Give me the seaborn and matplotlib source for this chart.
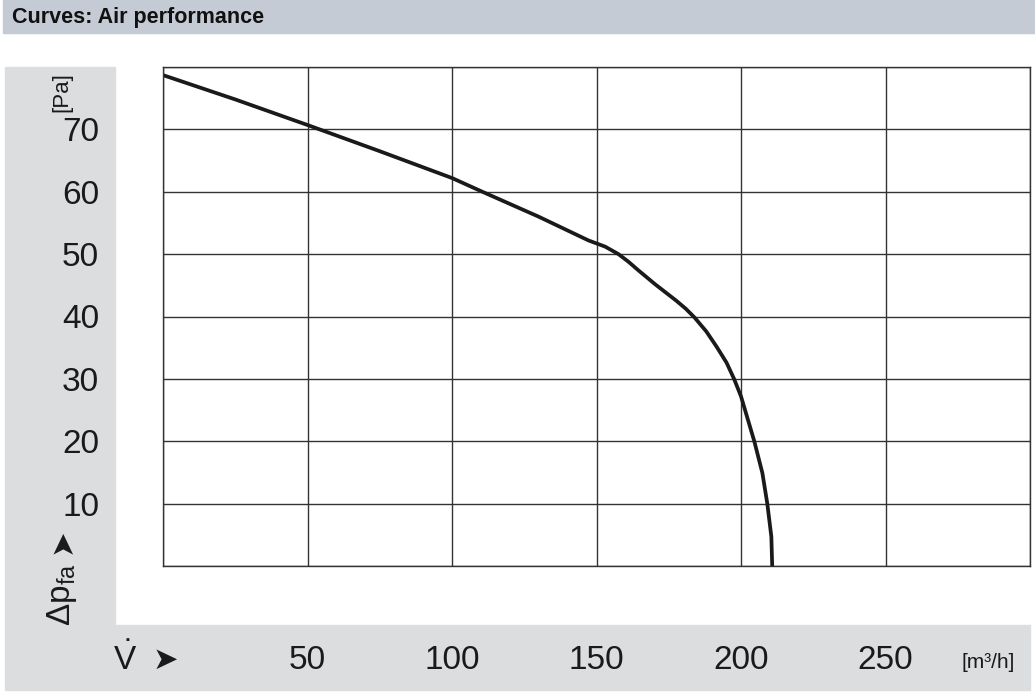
import matplotlib
matplotlib.use('Agg')
import matplotlib.pyplot as plt
from matplotlib.patches import Rectangle
import seaborn as sns

# Air performance curve
flow_m3h = [0, 25, 50, 75, 100, 110.5, 130, 147.2, 153, 157.6, 161, 164.5, 170.2, 177.7, 181,
            184, 188, 191.5, 195, 197.6, 200, 204.6, 207.4, 209.1, 210.5, 210.8]
pressure_pa = [78.7, 74.8, 70.7, 66.5, 62.2, 60, 56.0, 52.2, 51.2, 50, 48.8, 47.4, 45.2, 42.5, 41.2,
               39.8, 37.6, 35.2, 32.6, 30.0, 27.2, 20, 14.9, 10, 4.7, 0]

x_ticks = [0, 50, 100, 150, 200, 250, 300]
x_labels = ['', '50', '100', '150', '200', '250', '']
y_ticks = [0, 10, 20, 30, 40, 50, 60, 70, 80]
y_labels = ['', '10', '20', '30', '40', '50', '60', '70', '']

sns.set_style('white')
plt.rcParams['font.family'] = ['Liberation Sans', 'DejaVu Sans']
plt.rcParams['mathtext.fontset'] = 'custom'
plt.rcParams['mathtext.rm'] = 'Liberation Sans'
plt.rcParams['mathtext.it'] = 'Liberation Sans'

W, H = 1035, 696
fig = plt.figure(figsize=(W / 100, H / 100), dpi=100)


def band(x0, y0, x1, y1, color):
    fig.patches.append(Rectangle((x0 / W, 1 - y1 / H), (x1 - x0) / W, (y1 - y0) / H,
                                 transform=fig.transFigure, color=color, zorder=-10))


band(3, 0, 1035, 33, '#c4cbd5')
band(5, 67, 115, 625, '#dcdddf')
band(5, 625, 1030, 690, '#dcdddf')

fig.text(12 / W, 1 - 17 / H, 'Curves: Air performance', fontsize=15.5, fontweight='bold',
         va='center', ha='left', color='#111111')

ax = fig.add_axes([163 / W, 1 - 566 / H, (1030 - 163) / W, (566 - 67) / H])
ax.patch.set_alpha(0)
sns.lineplot(x=flow_m3h, y=pressure_pa, ax=ax, color='#1a1a1a', linewidth=2.7,
             estimator=None, sort=False)

ax.set_xlim(0, 300)
ax.set_ylim(0, 80)
ax.set_xticks(x_ticks)
ax.set_xticklabels(x_labels)
ax.set_yticks(y_ticks)
ax.set_yticklabels(y_labels)
ax.grid(True, color='#333333', linewidth=1.0)
ax.set_axisbelow(True)
for s in ax.spines.values():
    s.set_color('#333333')
    s.set_linewidth(1.0)
ax.tick_params(axis='x', length=0, pad=57, labelsize=24, labelcolor='#1a1a1a')
ax.tick_params(axis='y', length=0, pad=46, labelsize=24, labelcolor='#1a1a1a')
ax.set_xlabel('')
ax.set_ylabel('')

# axis captions
fig.text(62 / W, 1 - 92 / H, '[Pa]', rotation=90, fontsize=16, ha='center', va='center', color='#1a1a1a')
fig.text(62 / W, 1 - 595 / H, r'$\Delta\mathrm{p}_{\mathrm{fa}}$', rotation=90, fontsize=24,
         ha='center', va='center', color='#1a1a1a')
fig.text(62 / W, 1 - 541 / H, '\u27a4', rotation=90, fontsize=22, ha='center', va='center',
         color='#1a1a1a', family='DejaVu Sans')
fig.text(125 / W, 1 - 660 / H, r'$\dot{\mathrm{V}}$', fontsize=24, ha='center', va='center', color='#1a1a1a')
fig.text(165 / W, 1 - 660 / H, '\u27a4', fontsize=22, ha='center', va='center',
         color='#1a1a1a', family='DejaVu Sans')
fig.text(988 / W, 1 - 662 / H, '[m\u00b3/h]', fontsize=15, ha='center', va='center', color='#1a1a1a')

fig.savefig('out.png', dpi=100)
